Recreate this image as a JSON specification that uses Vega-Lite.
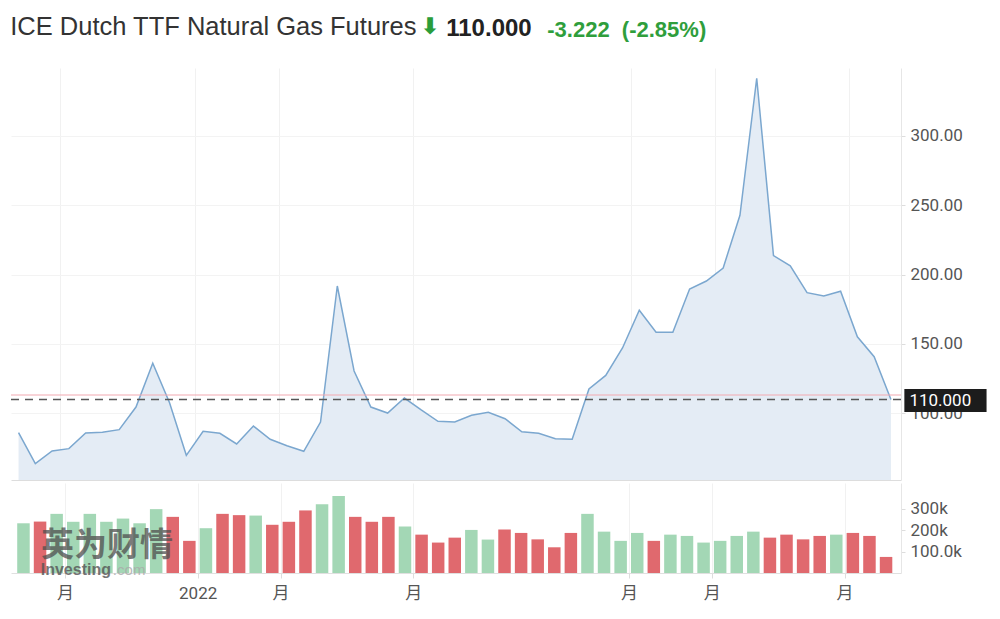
{
  "$schema": "https://vega.github.io/schema/vega-lite/v6.json",
  "padding": {"left": 10, "top": 14, "right": 5, "bottom": 5},
  "background": "white",
  "title": {
    "text": "ICE Dutch TTF Natural Gas Futures",
    "anchor": "start",
    "font": "Liberation Sans",
    "fontSize": 25.5,
    "fontWeight": "normal",
    "color": "#333333",
    "offset": 0,
    "dy": 24
  },
  "datasets": {
    "weeks": [
      {"i": 0, "price": 86.0, "vol": 232000, "dir": "g"},
      {"i": 1, "price": 63.7, "vol": 240000, "dir": "r"},
      {"i": 2, "price": 72.8, "vol": 276000, "dir": "g"},
      {"i": 3, "price": 74.5, "vol": 239000, "dir": "g"},
      {"i": 4, "price": 85.8, "vol": 276000, "dir": "g"},
      {"i": 5, "price": 86.3, "vol": 239000, "dir": "g"},
      {"i": 6, "price": 88.2, "vol": 254000, "dir": "g"},
      {"i": 7, "price": 104.5, "vol": 232000, "dir": "g"},
      {"i": 8, "price": 136.1, "vol": 298000, "dir": "g"},
      {"i": 9, "price": 107.6, "vol": 262000, "dir": "r"},
      {"i": 10, "price": 69.7, "vol": 150000, "dir": "r"},
      {"i": 11, "price": 87.0, "vol": 209000, "dir": "g"},
      {"i": 12, "price": 85.6, "vol": 276000, "dir": "r"},
      {"i": 13, "price": 77.9, "vol": 270000, "dir": "r"},
      {"i": 14, "price": 90.8, "vol": 268000, "dir": "g"},
      {"i": 15, "price": 81.3, "vol": 225000, "dir": "r"},
      {"i": 16, "price": 76.6, "vol": 239000, "dir": "r"},
      {"i": 17, "price": 72.6, "vol": 292000, "dir": "r"},
      {"i": 18, "price": 93.7, "vol": 321000, "dir": "g"},
      {"i": 19, "price": 191.8, "vol": 359000, "dir": "g"},
      {"i": 20, "price": 130.5, "vol": 262000, "dir": "r"},
      {"i": 21, "price": 104.5, "vol": 239000, "dir": "r"},
      {"i": 22, "price": 100.2, "vol": 262000, "dir": "r"},
      {"i": 23, "price": 111.0, "vol": 217000, "dir": "g"},
      {"i": 24, "price": 102.4, "vol": 179000, "dir": "r"},
      {"i": 25, "price": 94.2, "vol": 142000, "dir": "r"},
      {"i": 26, "price": 93.7, "vol": 165000, "dir": "r"},
      {"i": 27, "price": 98.6, "vol": 201000, "dir": "g"},
      {"i": 28, "price": 100.7, "vol": 156000, "dir": "g"},
      {"i": 29, "price": 96.1, "vol": 203000, "dir": "r"},
      {"i": 30, "price": 86.7, "vol": 187000, "dir": "r"},
      {"i": 31, "price": 85.6, "vol": 157000, "dir": "r"},
      {"i": 32, "price": 81.7, "vol": 120000, "dir": "r"},
      {"i": 33, "price": 81.3, "vol": 187000, "dir": "r"},
      {"i": 34, "price": 117.5, "vol": 276000, "dir": "g"},
      {"i": 35, "price": 127.3, "vol": 193000, "dir": "g"},
      {"i": 36, "price": 147.1, "vol": 150000, "dir": "g"},
      {"i": 37, "price": 174.3, "vol": 187000, "dir": "g"},
      {"i": 38, "price": 158.4, "vol": 150000, "dir": "r"},
      {"i": 39, "price": 158.4, "vol": 179000, "dir": "g"},
      {"i": 40, "price": 189.6, "vol": 173000, "dir": "g"},
      {"i": 41, "price": 195.4, "vol": 142000, "dir": "g"},
      {"i": 42, "price": 204.8, "vol": 150000, "dir": "g"},
      {"i": 43, "price": 242.8, "vol": 173000, "dir": "g"},
      {"i": 44, "price": 341.6, "vol": 193000, "dir": "g"},
      {"i": 45, "price": 213.7, "vol": 165000, "dir": "r"},
      {"i": 46, "price": 206.4, "vol": 179000, "dir": "r"},
      {"i": 47, "price": 187.0, "vol": 157000, "dir": "r"},
      {"i": 48, "price": 184.6, "vol": 173000, "dir": "r"},
      {"i": 49, "price": 188.0, "vol": 179000, "dir": "g"},
      {"i": 50, "price": 155.2, "vol": 187000, "dir": "r"},
      {"i": 51, "price": 140.8, "vol": 173000, "dir": "r"},
      {"i": 52, "price": 110.0, "vol": 75000, "dir": "r"}
    ]
  },
  "spacing": 3,
  "vconcat": [
    {
      "title": {
        "text": "⬇",
        "anchor": "start",
        "font": "DejaVu Sans",
        "fontSize": 23,
        "color": "#2a9d3a",
        "offset": 0,
        "dx": 410,
        "dy": 22
      },
      "vconcat": [
        {
          "title": {
            "text": "110.000",
            "anchor": "start",
            "font": "Liberation Sans",
            "fontSize": 24,
            "fontWeight": "bold",
            "color": "#222222",
            "offset": 0,
            "dx": 436,
            "dy": 22
          },
          "vconcat": [
            {
              "title": {
                "text": "-3.222\u00a0\u00a0(-2.85%)",
                "anchor": "start",
                "font": "Liberation Sans",
                "fontSize": 22,
                "fontWeight": "bold",
                "color": "#2f9e3c",
                "offset": 26,
                "dx": 537
              },
              "width": 890,
              "height": 412,
              "data": {"name": "weeks"},
              "layer": [
                {
                  "mark": {"type": "area", "color": "#e4ecf5", "opacity": 1},
                  "encoding": {
                    "x": {
                      "field": "i",
                      "type": "quantitative",
                      "scale": {"domain": [-0.45, 52.6], "nice": false, "zero": false},
                      "axis": {
                        "values": [2.5, 10.5, 15.5, 23.5, 36.5, 41.5, 49.5],
                        "labels": false,
                        "ticks": false,
                        "title": null,
                        "grid": true,
                        "gridColor": "#f1f1f1",
                        "domainColor": "#dddddd"
                      }
                    },
                    "y": {
                      "field": "price",
                      "type": "quantitative",
                      "scale": {"domain": [51.9, 349], "nice": false, "zero": false},
                      "axis": {
                        "orient": "right",
                        "values": [100, 150, 200, 250, 300],
                        "format": ".2f",
                        "title": null,
                        "grid": true,
                        "gridColor": "#f3f3f3",
                        "domainColor": "#e6e6e6",
                        "tickColor": "#dddddd",
                        "tickSize": 4,
                        "labelPadding": 5,
                        "labelFont": "Roboto",
                        "labelFontSize": 17,
                        "labelColor": "#555555"
                      }
                    },
                    "y2": {"datum": 51.9}
                  }
                },
                {
                  "mark": {"type": "line", "color": "#7ba7cf", "strokeWidth": 1.5},
                  "encoding": {
                    "x": {"field": "i", "type": "quantitative"},
                    "y": {"field": "price", "type": "quantitative"}
                  }
                },
                {
                  "data": {"values": [{}]},
                  "mark": {"type": "rule", "color": "#f2a9b2", "strokeWidth": 1.2},
                  "encoding": {"y": {"datum": 113.2}}
                },
                {
                  "data": {"values": [{}]},
                  "mark": {"type": "rule", "color": "#555555", "strokeWidth": 1.5, "strokeDash": [8, 6]},
                  "encoding": {"y": {"datum": 110}}
                },
                {
                  "data": {"values": [{}]},
                  "mark": {"type": "rect", "color": "#1c1c1c"},
                  "encoding": {
                    "x": {"datum": 52.8},
                    "x2": {"datum": 57.7},
                    "y": {"datum": 117.5},
                    "y2": {"datum": 100.9}
                  }
                },
                {
                  "data": {"values": [{}]},
                  "mark": {"type": "text", "color": "white", "align": "left", "baseline": "middle", "font": "Roboto", "fontSize": 17},
                  "encoding": {
                    "x": {"datum": 53.1},
                    "y": {"datum": 109.2},
                    "text": {"value": "110.000"}
                  }
                }
              ]
            }
          ]
        }
      ]
    },
    {
      "width": 890,
      "height": 90,
      "data": {"name": "weeks"},
      "layer": [
        {
          "mark": {"type": "bar", "size": 12.5, "orient": "vertical"},
          "encoding": {
            "x": {
              "field": "i",
              "type": "quantitative",
              "scale": {"domain": [-0.45, 52.6], "nice": false, "zero": false},
              "axis": {
                "values": [2.5, 10.5, 15.5, 23.5, 36.5, 41.5, 49.5],
                "labelExpr": "datum.value == 10.5 ? '2022' : '月'",
                "title": null,
                "grid": true,
                "gridColor": "#f1f1f1",
                "domainColor": "#e0e0e0",
                "tickColor": "#dddddd",
                "tickSize": 5,
                "labelPadding": 7,
                "labelFont": "Roboto, 'Noto Sans CJK SC', sans-serif",
                "labelFontSize": 17,
                "labelColor": "#555555"
              }
            },
            "y": {
              "field": "vol",
              "type": "quantitative",
              "scale": {"domain": [0, 420000], "nice": false},
              "axis": {
                "orient": "right",
                "values": [100000, 200000, 300000],
                "labelExpr": "datum.value == 100000 ? '100.0k' : (datum.value / 1000) + 'k'",
                "title": null,
                "grid": false,
                "domainColor": "#e6e6e6",
                "tickColor": "#dddddd",
                "tickSize": 4,
                "labelPadding": 5,
                "labelFont": "Roboto",
                "labelFontSize": 17,
                "labelColor": "#555555"
              }
            },
            "color": {
              "field": "dir",
              "type": "nominal",
              "scale": {"domain": ["g", "r"], "range": ["#a3d7b5", "#e0696e"]},
              "legend": null
            }
          }
        },
        {
          "data": {"values": [{}]},
          "mark": {"type": "text", "font": "Noto Sans CJK SC", "fontWeight": "bold", "fontSize": 33, "color": "#4f4f4f", "opacity": 0.75, "baseline": "middle"},
          "encoding": {
            "x": {"datum": 5.04},
            "y": {"datum": 126000},
            "text": {"value": "英为财情"}
          }
        },
        {
          "data": {"values": [{}]},
          "mark": {"type": "text", "font": "Liberation Sans", "fontWeight": "bold", "fontSize": 16, "color": "#555555", "opacity": 0.8, "align": "left", "baseline": "middle"},
          "encoding": {
            "x": {"datum": 1.04},
            "y": {"datum": 14000},
            "text": {"value": "Investing"}
          }
        },
        {
          "data": {"values": [{}]},
          "mark": {"type": "text", "font": "Liberation Sans", "fontSize": 15, "color": "#aaaaaa", "opacity": 0.8, "align": "left", "baseline": "middle"},
          "encoding": {
            "x": {"datum": 5.39},
            "y": {"datum": 14000},
            "text": {"value": ".com"}
          }
        }
      ]
    }
  ],
  "config": {
    "view": {"stroke": null}
  }
}
